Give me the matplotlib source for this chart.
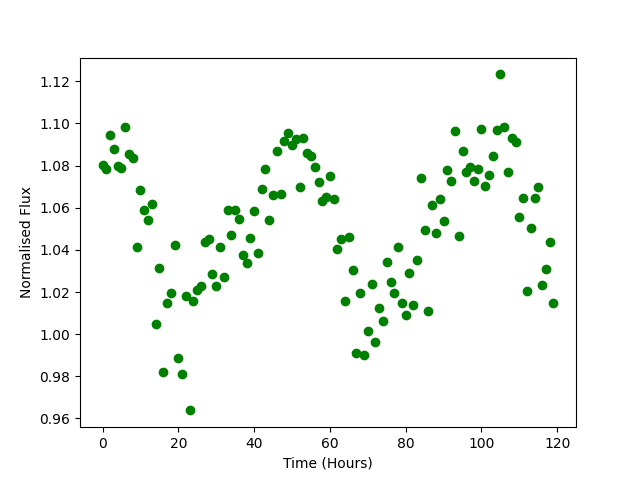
import numpy as np
import matplotlib
matplotlib.use("Agg")
import matplotlib.pyplot as plt

# hourly samples
time_hours = np.arange(120)

flux = [
    1.0801, 1.0782, 1.0944, 1.0877, 1.0796, 1.0787, 1.0982, 1.0853, 1.0834, 1.0412,
    1.0682, 1.0588, 1.0540, 1.0616, 1.0046, 1.0312, 0.9818, 1.0146, 1.0193, 1.0421,
    0.9885, 0.9809, 1.0179, 0.9638, 1.0155, 1.0208, 1.0227, 1.0436, 1.0450, 1.0284,
    1.0227, 1.0412, 1.0269, 1.0588, 1.0469, 1.0588, 1.0545, 1.0374, 1.0336, 1.0455,
    1.0583, 1.0383, 1.0687, 1.0782, 1.0540, 1.0659, 1.0868, 1.0663, 1.0915, 1.0953,
    1.0896, 1.0925, 1.0697, 1.0929, 1.0858, 1.0844, 1.0792, 1.0720, 1.0630, 1.0649,
    1.0749, 1.0640, 1.0402, 1.0450, 1.0155, 1.0459, 1.0303, 0.9909, 1.0193, 0.9899,
    1.0013, 1.0236, 0.9961, 1.0122, 1.0061, 1.0341, 1.0246, 1.0193, 1.0412, 1.0146,
    1.0089, 1.0288, 1.0137, 1.0350, 1.0739, 1.0493, 1.0108, 1.0611, 1.0478, 1.0640,
    1.0535, 1.0777, 1.0725, 1.0963, 1.0464, 1.0868, 1.0768, 1.0792, 1.0725, 1.0782,
    1.0972, 1.0701, 1.0754, 1.0844, 1.0967, 1.1233, 1.0982, 1.0768, 1.0929, 1.0910,
    1.0554, 1.0645, 1.0203, 1.0502, 1.0645, 1.0697, 1.0231, 1.0307, 1.0436, 1.0146,
]

fig = plt.figure(figsize=(6.4, 4.8), dpi=100)
ax = plt.axes()

ax.plot(time_hours, flux, 'o', color='green')

ax.set_xlabel('Time (Hours)')
ax.set_ylabel('Normalised Flux')

plt.savefig('out.png')
